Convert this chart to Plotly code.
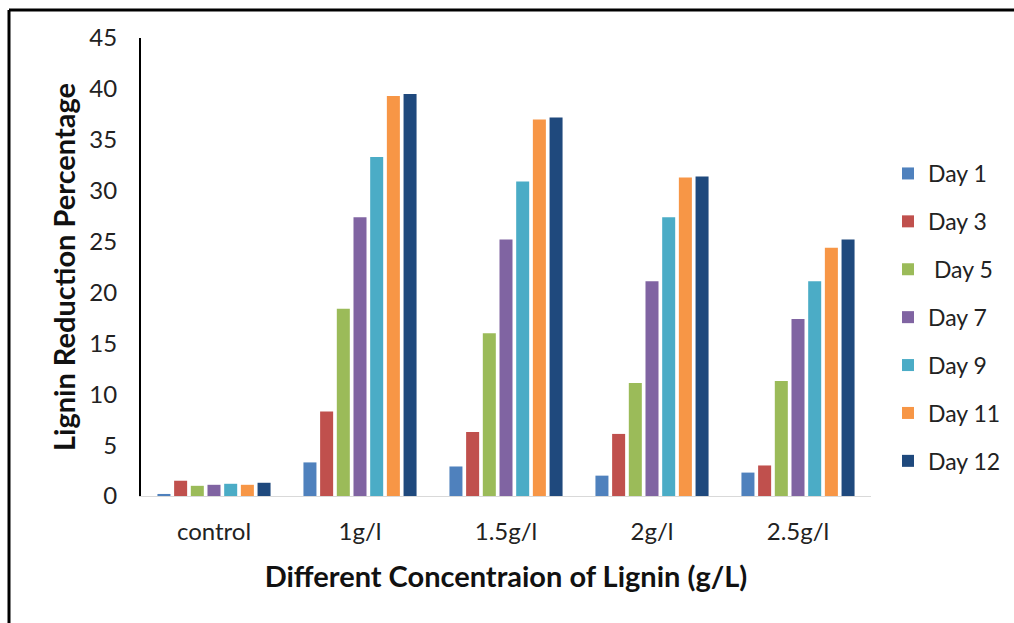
import plotly.graph_objects as go

categories = ["control", "1g/l", "1.5g/l", "2g/l", "2.5g/l"]
series_names = ["Day 1", "Day 3", " Day 5", "Day 7", "Day 9", "Day 11", "Day 12"]
day1 = [0.2, 3.3, 2.9, 2.0, 2.3]
day3 = [1.5, 8.3, 6.3, 6.1, 3.0]
day5 = [1.0, 18.4, 16.0, 11.1, 11.3]
day7 = [1.1, 27.4, 25.2, 21.1, 17.4]
day9 = [1.2, 33.3, 30.9, 27.4, 21.1]
day11 = [1.1, 39.3, 37.0, 31.3, 24.4]
day12 = [1.3, 39.5, 37.2, 31.4, 25.2]
values = [day1, day3, day5, day7, day9, day11, day12]
colors = ["#4F81BD", "#C0504D", "#9BBB59", "#8064A2", "#4BACC6", "#F79646", "#1F497D"]
yticks = [0, 5, 10, 15, 20, 25, 30, 35, 40, 45]

FONT = "Lato, Open Sans, sans-serif"

fig = go.Figure()
for i, (name, vals) in enumerate(zip(series_names, values)):
    fig.add_trace(go.Bar(x=categories, y=vals, name=name, marker_color=colors[i],
                         marker_line_width=0, legendgroup=str(i)))

W, H = 1014, 623
L, R, T, B = 141, 143, 38, 127
pw, ph = W - L - R, H - T - B

def px_x(px):
    return (px - L) / pw

def px_y(py):
    return (H - B - py) / ph

fig.update_layout(
    width=W, height=H,
    margin=dict(l=L, r=R, t=T, b=B, autoexpand=False),
    paper_bgcolor="white", plot_bgcolor="white",
    barmode="group", bargap=0.2, bargroupgap=0.22,
    font=dict(family=FONT, color="#222222"),
    xaxis=dict(showline=True, linecolor="#d9d9d9", linewidth=1, ticks="",
               ticklabelstandoff=14,
               tickfont=dict(size=24, family=FONT, color="#222"),
               title=dict(text="<b>Different Concentraion of Lignin (g/L)</b>",
                          font=dict(size=29, family=FONT, color="#111"), standoff=22)),
    yaxis=dict(range=[0, 45], tickvals=yticks, showgrid=False, zeroline=False,
               showline=True, linecolor="black", linewidth=2, ticks="",
               ticklabelstandoff=17,
               tickfont=dict(size=24, family=FONT, color="#222"),
               title=dict(text="<b>Lignin Reduction Percentage</b>",
                          font=dict(size=29, family=FONT, color="#111"), standoff=5)),
    legend=dict(x=px_x(888), y=px_y(152), xanchor="left", yanchor="top",
                font=dict(size=23, family=FONT, color="#222"),
                tracegroupgap=15, itemwidth=30, bgcolor="rgba(0,0,0,0)"),
    showlegend=True,
)

# frame lines (top and left edges visible in the reference)
fig.add_shape(type="line", xref="paper", yref="paper",
              x0=px_x(9), x1=px_x(1016), y0=px_y(10), y1=px_y(10),
              line=dict(color="black", width=3), layer="above")
fig.add_shape(type="line", xref="paper", yref="paper",
              x0=px_x(9), x1=px_x(9), y0=px_y(10), y1=px_y(626),
              line=dict(color="black", width=3), layer="above")

fig.write_html("out.html")
